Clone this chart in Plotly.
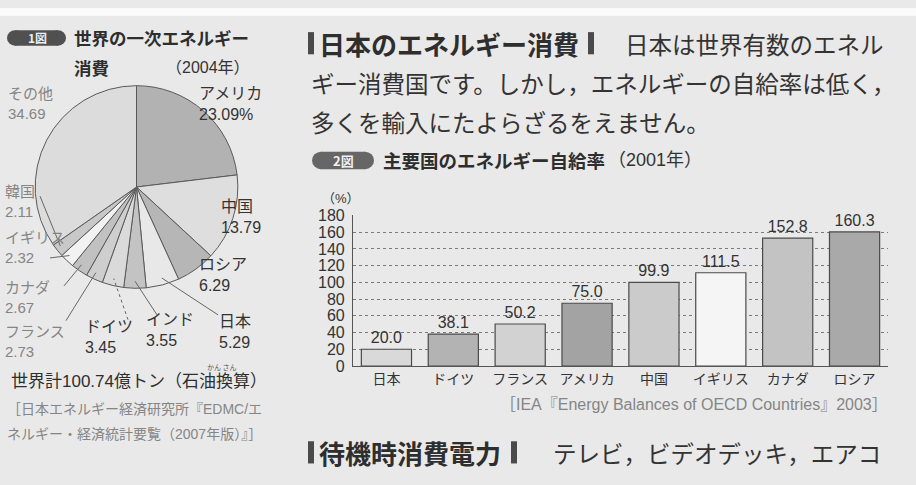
import math
import plotly.graph_objects as go

# ---------------- data ----------------
pie_labels = ["アメリカ", "中国", "ロシア", "日本", "インド", "ドイツ", "フランス", "カナダ", "イギリス", "韓国", "その他"]
pie_values = [23.09, 13.79, 6.29, 5.29, 3.55, 3.45, 2.73, 2.67, 2.32, 2.11, 34.69]
pie_colors = ["#b2b2b2", "#dedede", "#b6b6b6", "#e8e8e8", "#c3c3c3", "#dadada",
              "#cecece", "#c1c1c1", "#f2f2f2", "#c8c8c8", "#dcdcdc"]

bar_categories = ["日本", "ドイツ", "フランス", "アメリカ", "中国", "イギリス", "カナダ", "ロシア"]
bar_values = [20.0, 38.1, 50.2, 75.0, 99.9, 111.5, 152.8, 160.3]
bar_colors = ["#d9d9d9", "#b3b3b3", "#d2d2d2", "#a3a3a3", "#cbcbcb", "#f5f5f5", "#c3c3c3", "#a9a9a9"]
y_ticks = [0, 20, 40, 60, 80, 100, 120, 140, 160, 180]

W, H = 916, 485
FONT = "Noto Sans CJK JP"
LAT = "Liberation Sans, Noto Sans CJK JP"
TXT = "#333333"
GREY = "#858585"


def X(px):
    return px / W


def Y(py):
    return 1 - py / H


# pie geometry (pixels)
cx, cy, r = 136.5, 185.5, 105

fig = go.Figure()

fig.add_trace(go.Pie(
    labels=pie_labels, values=pie_values, sort=False, direction="clockwise", rotation=0,
    marker=dict(colors=pie_colors, line=dict(color="#5a5a5a", width=1)),
    textinfo="none", hoverinfo="label+value", showlegend=False,
    domain=dict(x=[X(cx - r), X(cx + r)], y=[Y(cy + r), Y(cy - r)]),
))

fig.add_trace(go.Bar(
    x=bar_categories, y=bar_values,
    marker=dict(color=bar_colors, line=dict(color="#4a4a4a", width=1.2)),
    text=[f"{v:.1f}" for v in bar_values], textposition="outside",
    textfont=dict(size=16, color=TXT, family="Liberation Sans"),
    cliponaxis=False, showlegend=False, width=0.75,
))

ann = []


def txt(px, py, s, size=15, color=TXT, anchor="left", family=FONT, vanchor="middle"):
    ann.append(dict(x=X(px), y=Y(py), xref="paper", yref="paper", text=s, showarrow=False,
                    xanchor=anchor, yanchor=vanchor, align=anchor if anchor != "center" else "center",
                    font=dict(size=size, color=color, family=family)))


shapes = []


def line(x0, y0, x1, y1, color="#666666", width=1, dash="solid"):
    shapes.append(dict(type="line", xref="paper", yref="paper", x0=X(x0), y0=Y(y0), x1=X(x1), y1=Y(y1),
                       line=dict(color=color, width=width, dash=dash)))


def rect(x0, y0, x1, y1, color):
    shapes.append(dict(type="rect", xref="paper", yref="paper", x0=X(x0), y0=Y(y1), x1=X(x1), y1=Y(y0),
                       fillcolor=color, line=dict(width=0), layer="below"))


def pill(x0, y0, x1, y1, color):
    h = y1 - y0
    shapes.append(dict(type="rect", xref="paper", yref="paper", x0=X(x0 + h / 2), y0=Y(y1), x1=X(x1 - h / 2), y1=Y(y0),
                       fillcolor=color, line=dict(width=0)))
    for a in (x0, x1 - h):
        shapes.append(dict(type="circle", xref="paper", yref="paper", x0=X(a), y0=Y(y1), x1=X(a + h), y1=Y(y0),
                           fillcolor=color, line=dict(width=0)))


# top white strip
rect(0, 0, W, 8, "#fbfbfb")

# ---------- left: figure 1 ----------
pill(7, 23, 66, 39, "#505050")
txt(37, 31, "<b>1図</b>", size=12, color="#eeeeee", anchor="center")
txt(72, 31, "<b>世界の一次エネルギー</b>", size=17.5, color="#2e2e2e")
txt(72, 62, "<b>消費</b>", size=17.5, color="#2e2e2e")
txt(252, 62, "（2004年）", size=16, color=TXT, anchor="right", family=LAT)

# pie labels
txt(6, 99, "その他<br>34.69", size=15, color=GREY, family=LAT)
txt(197, 99, "アメリカ<br>23.09%", size=16, family=LAT)
txt(219, 217, "中国<br>13.79", size=16, family=LAT)
txt(197, 277, "ロシア<br>6.29", size=16, family=LAT)
txt(3, 201, "韓国<br>2.11", size=15, color=GREY, family=LAT)
txt(3, 248, "イギリス<br>2.32", size=15, color=GREY, family=LAT)
txt(3, 300, "カナダ<br>2.67", size=15, color=GREY, family=LAT)
txt(3, 346, "フランス<br>2.73", size=15, color=GREY, family=LAT)
txt(83, 341, "ドイツ<br>3.45", size=16, family=LAT)
txt(144, 334, "インド<br>3.55", size=16, family=LAT)
txt(217, 336, "日本<br>5.29", size=16, family=LAT)

# leader lines from labels to slice mid-angles (computed from values)
total = sum(pie_values)
mid = {}
acc = 0
for lab, v in zip(pie_labels, pie_values):
    t = 2 * math.pi * (acc + v / 2) / total
    mid[lab] = t
    acc += v


def rim(lab, f=0.93):
    t = mid[lab]
    return cx + f * r * math.sin(t), cy - f * r * math.cos(t)


leaders = {"韓国": (40, 195), "イギリス": (50, 259), "カナダ": (64, 288),
           "フランス": (66, 324), "ドイツ": (128, 323), "インド": (157, 318), "日本": (218, 318)}
for lab, (lx, ly) in leaders.items():
    ex, ey = rim(lab)
    line(lx, ly, ex, ey, dash="dot" if lab == "ドイツ" else "solid")

txt(9, 387, "世界計100.74億トン（石油換算）", size=17, color="#2e2e2e", family=LAT)
txt(222, 372, "かん さん", size=7, color="#555555", anchor="center")
txt(5, 416, "［日本エネルギー経済研究所『EDMC/エ", size=14, color=GREY, family=LAT)
txt(5, 441, "ネルギー・経済統計要覧（2007年版）』］", size=14, color=GREY, family=LAT)

# ---------- right: text ----------
rect(308, 25, 314, 48, "#4a4a4a")
txt(317, 37, "<b>日本のエネルギー消費</b>", size=26, color="#2e2e2e")
rect(588, 25, 594, 48, "#4a4a4a")
txt(623, 37, "日本は世界有数のエネル", size=23.5, color=TXT)
txt(309, 78, "ギー消費国です。しかし，エネルギーの自給率は低く，", size=23.5, color=TXT)
txt(309, 118, "多くを輸入にたよらざるをえません。", size=23.5, color=TXT)

pill(312, 149, 374, 167, "#666666")
txt(343, 158, "<b>2図</b>", size=13, color="#f0f0f0", anchor="center")
txt(381, 158, "<b>主要国のエネルギー自給率</b>", size=18.5, color="#2e2e2e")
txt(606, 158, "（2001年）", size=18, color=TXT, family=LAT)
txt(320, 197, "（%）", size=13, color=TXT, family=LAT)

txt(890, 411, "［IEA『Energy Balances of OECD Countries』2003］", size=16, color=GREY, anchor="right", family=LAT)

rect(308, 449, 314, 472, "#4a4a4a")
txt(317, 461, "<b>待機時消費電力</b>", size=26, color="#2e2e2e")
rect(511, 449, 517, 472, "#4a4a4a")
txt(551, 461, "テレビ，ビデオデッキ，エアコ", size=23.5, color=TXT)

fig.update_layout(
    width=W, height=H, margin=dict(l=0, r=0, t=0, b=0),
    paper_bgcolor="#e9e9e9", plot_bgcolor="rgba(0,0,0,0)",
    font=dict(family=FONT, color=TXT),
    annotations=ann, shapes=shapes, bargap=0.25,
    xaxis=dict(domain=[X(353), X(888)], showline=True, linecolor="#555555", linewidth=1.2,
               tickfont=dict(size=14, color=TXT, family=FONT), ticks="", fixedrange=True),
    yaxis=dict(domain=[Y(371), Y(215)], range=[0, 180], tickvals=y_ticks,
               showgrid=True, gridcolor="#7a7a7a", griddash="dot", gridwidth=1,
               showline=True, linecolor="#555555", linewidth=1.2, zeroline=False,
               tickfont=dict(size=16, color=TXT, family="Liberation Sans"), ticks="", ticklabelstandoff=4),
)

fig.write_html("out.html")
